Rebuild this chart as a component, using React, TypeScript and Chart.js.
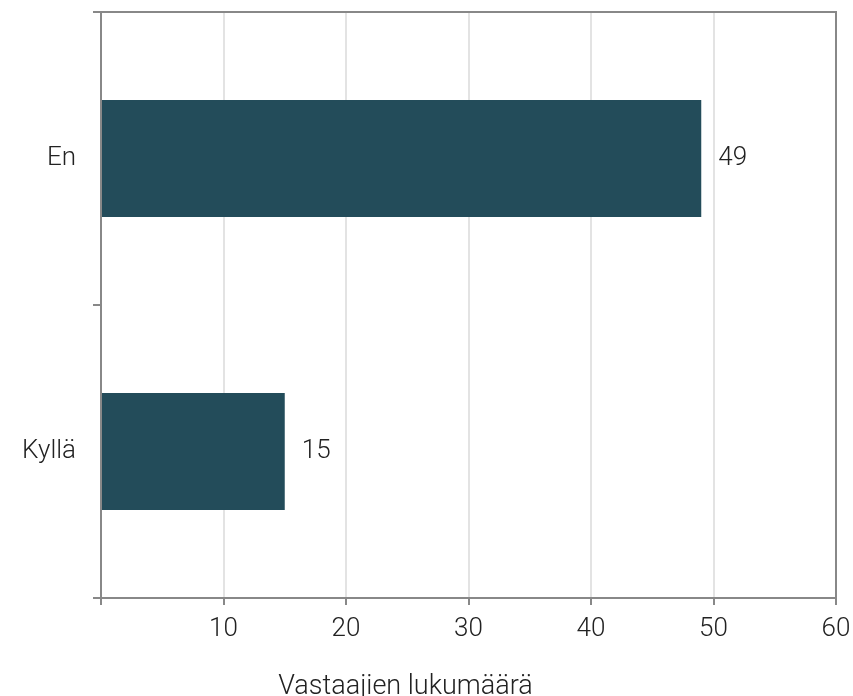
import React, { useEffect, useRef } from "react";
import { Chart, registerables } from "chart.js";

Chart.register(...registerables);

const categories = ["En", "Kyllä"];
const values = [49, 15];
const axisTitle = "Vastaajien lukumäärä";
const xMin = 0;
const xMax = 60;
const xStep = 10;

const FONT = "Roboto";
const TEXT = "#222222";
const AXIS = "#888888";
const TICK_SIZE = 26;

const framePlugin = {
  id: "frame",
  afterDraw(chart: any) {
    const { ctx, chartArea } = chart;
    ctx.save();
    ctx.strokeStyle = AXIS;
    ctx.lineWidth = 2;
    ctx.beginPath();
    ctx.moveTo(chartArea.left - 8, chartArea.top);
    ctx.lineTo(chartArea.right, chartArea.top);
    ctx.lineTo(chartArea.right, chartArea.bottom);
    ctx.stroke();
    // axis title
    ctx.font = `300 27px ${FONT}`;
    ctx.fillStyle = TEXT;
    ctx.textAlign = "center";
    ctx.textBaseline = "alphabetic";
    ctx.fillText(axisTitle, chart.width / 2 - 21, chart.height - 2);
    ctx.restore();
  },
};

const labelPlugin = {
  id: "barLabels",
  afterDatasetsDraw(chart: any) {
    const { ctx } = chart;
    const meta = chart.getDatasetMeta(0);
    ctx.save();
    ctx.font = `300 ${TICK_SIZE}px ${FONT}`;
    ctx.fillStyle = TEXT;
    ctx.textAlign = "left";
    ctx.textBaseline = "middle";
    meta.data.forEach((bar: any, i: number) => {
      ctx.fillText(String(values[i]), bar.x + 17, bar.y);
    });
    ctx.restore();
  },
};

const zeroPad = (s: any) => {
  s.paddingTop = 0;
  s.paddingBottom = 0;
  s.paddingLeft = 0;
  s.paddingRight = 0;
};

export default function App() {
  const ref = useRef<HTMLCanvasElement | null>(null);
  useEffect(() => {
    if (!ref.current) return;
    const chart = new Chart(ref.current, {
      type: "bar",
      data: {
        labels: categories,
        datasets: [
          {
            data: values,
            backgroundColor: "#234c5a",
            barPercentage: 0.5,
            categoryPercentage: 0.8,
          },
        ],
      },
      options: {
        indexAxis: "y",
        animation: false,
        responsive: true,
        maintainAspectRatio: false,
        layout: { padding: { left: 0, right: 17, top: 12, bottom: 0 } },
        plugins: { legend: { display: false }, tooltip: { enabled: false } },
        scales: {
          x: {
            min: xMin,
            max: xMax,
            ticks: {
              stepSize: xStep,
              color: TEXT,
              font: { family: FONT, size: TICK_SIZE, weight: "300" as any },
              padding: 9,
              callback: (v: any) => (v === 0 ? "" : String(v)),
              maxRotation: 0,
            },
            grid: {
              color: (c: any) => (c.tick && c.tick.value === 0 ? "rgba(0,0,0,0)" : "#e3e3e3"),
              lineWidth: 2,
              tickColor: AXIS,
              tickLength: 7,
            },
            border: { color: AXIS, width: 2 },
            afterFit: (s: any) => {
              s.height = 98;
              zeroPad(s);
            },
          },
          y: {
            ticks: {
              color: TEXT,
              font: { family: FONT, size: TICK_SIZE, weight: "300" as any },
              padding: 17,
            },
            grid: {
              offset: true,
              drawOnChartArea: false,
              tickColor: AXIS,
              tickLength: 8,
              lineWidth: 2,
            },
            border: { color: AXIS, width: 2 },
            afterFit: (s: any) => {
              s.width = 101;
              zeroPad(s);
            },
          },
        },
      },
      plugins: [framePlugin, labelPlugin],
    });
    return () => chart.destroy();
  }, []);
  return (
    <div style={{ position: "fixed", left: 0, top: 0, width: 853, height: 696, background: "#fff" }}>
      <canvas ref={ref} />
    </div>
  );
}
